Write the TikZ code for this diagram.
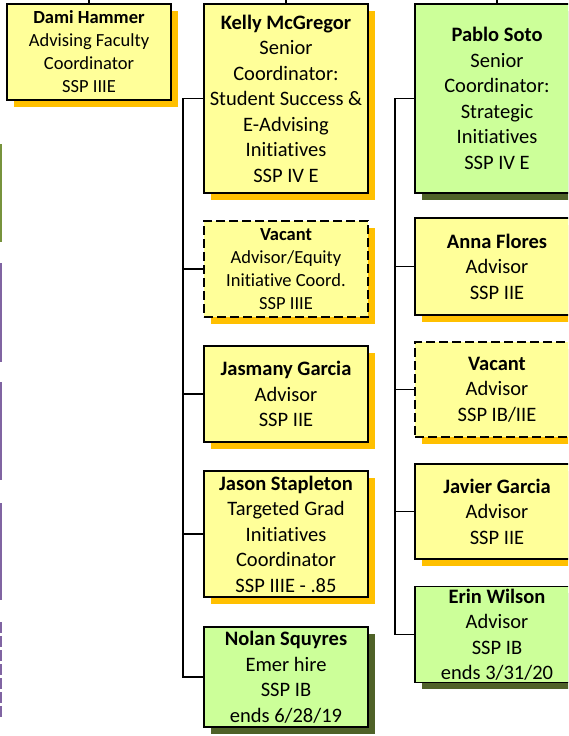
\documentclass[tikz,border=0pt]{standalone}
\usepackage{fontspec}
\setmainfont[Ligatures={NoCommon}]{Carlito}
\usetikzlibrary{shadows}
\definecolor{yfill}{HTML}{FFFF99}
\definecolor{gfill}{HTML}{CCFF99}
\definecolor{yshad}{HTML}{FFC000}
\definecolor{gshad}{HTML}{4F6228}
\definecolor{pbar}{HTML}{8064A2}
\definecolor{gbar}{HTML}{77933C}
\tikzset{
  card/.style={draw=black, line width=1.3pt, minimum width=164pt, inner sep=2pt,
    align=center, font=\fontsize{20.5}{25.5}\selectfont},
  smalltext/.style={font=\fontsize{18.5}{23}\selectfont},
  ycard/.style={card, fill=yfill, drop shadow={shadow xshift=6.5pt, shadow yshift=-6.5pt, fill=yshad, opacity=1}},
  gcard/.style={card, fill=gfill, drop shadow={shadow xshift=6.5pt, shadow yshift=-6.5pt, fill=gshad, opacity=1}},
  vacant/.style={dash pattern=on 9pt off 4pt},
  link/.style={draw=black, line width=1.3pt},
  edgebar/.style={line width=2.6pt}
}
\begin{document}
\begin{tikzpicture}[x=1pt,y=-1pt]
\useasboundingbox (0,0) rectangle (568,736);
\clip (0,0) rectangle (568,736);
% left edge bars
\draw[edgebar, gbar] (1,144) -- (1,242);
\draw[edgebar, pbar] (1,263) -- (1,362);
\draw[edgebar, pbar] (1,382) -- (1,480);
\draw[edgebar, pbar] (1,503) -- (1,600);
\draw[edgebar, pbar, dash pattern=on 11pt off 3pt] (1,622) -- (1,720);
% top coordinates
\coordinate (t1) at (89,0);
\coordinate (t2) at (286,0);
\coordinate (t3) at (497,0);
\coordinate (ktrunk) at (183,0);
\coordinate (ptrunk) at (395,0);
% nodes
\node[ycard, smalltext, minimum height=96pt] (dami) at (89,52)
  {\textbf{Dami Hammer}\\Advising Faculty\\Coordinator\\SSP IIIE};
\node[ycard, minimum height=189pt] (kelly) at (286,98.5)
  {\textbf{Kelly McGregor}\\Senior\\Coordinator:\\Student Success \&\\E-Advising\\Initiatives\\SSP IV E};
\node[gcard, minimum height=189pt] (pablo) at (497,98.5)
  {\textbf{Pablo Soto}\\Senior\\Coordinator:\\Strategic\\Initiatives\\SSP IV E};
\node[ycard, vacant, smalltext, minimum height=96pt] (vac1) at (286,269)
  {\textbf{Vacant}\\Advisor/Equity\\Initiative Coord.\\SSP IIIE};
\node[ycard, minimum height=96pt] (jasmany) at (286,394)
  {\textbf{Jasmany Garcia}\\Advisor\\SSP IIE};
\node[ycard, minimum height=126pt] (jason) at (286,534)
  {\textbf{Jason Stapleton}\\Targeted Grad\\Initiatives\\Coordinator\\SSP IIIE - .85};
\node[gcard, minimum height=100pt] (nolan) at (286,677)
  {\textbf{Nolan Squyres}\\Emer hire\\SSP IB\\ends 6/28/19};
\node[ycard, minimum height=97pt] (anna) at (497,266.5)
  {\textbf{Anna Flores}\\Advisor\\SSP IIE};
\node[ycard, vacant, minimum height=95pt] (vac2) at (497,389.5)
  {\textbf{Vacant}\\Advisor\\SSP IB/IIE};
\node[ycard, minimum height=95pt] (javier) at (497,511.5)
  {\textbf{Javier Garcia}\\Advisor\\SSP IIE};
\node[gcard, minimum height=95pt] (erin) at (497,634.5)
  {\textbf{Erin Wilson}\\Advisor\\SSP IB\\ends 3/31/20};
% connectors
\draw[link] (t1) -- (dami.north);
\draw[link] (t2) -- (kelly.north);
\draw[link] (t3) -- (pablo.north);
\draw[link] (kelly.west) -- (kelly.west -| ktrunk) |- (nolan.west);
\draw[link] (vac1.west) -- (vac1.west -| ktrunk);
\draw[link] (jasmany.west) -- (jasmany.west -| ktrunk);
\draw[link] (jason.west) -- (jason.west -| ktrunk);
\draw[link] (pablo.west) -- (pablo.west -| ptrunk) |- (erin.west);
\draw[link] (anna.west) -- (anna.west -| ptrunk);
\draw[link] (vac2.west) -- (vac2.west -| ptrunk);
\draw[link] (javier.west) -- (javier.west -| ptrunk);
\end{tikzpicture}
\end{document}
